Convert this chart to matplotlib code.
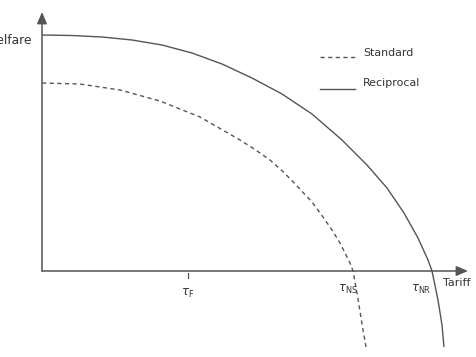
import matplotlib
matplotlib.use("Agg")
import matplotlib.pyplot as plt

# Curves (tariff, welfare)
reciprocal_tariff = [0, 30, 60, 90, 120, 150, 180, 210, 240, 270, 300, 325, 345, 362, 376, 386, 390, 396, 400, 402]
reciprocal_welfare = [236, 235.5, 234, 231, 226, 218, 207, 193, 177, 157, 131, 106, 83, 58, 33, 11, 0, -29, -54, -76]
standard_tariff = [0, 38, 78, 118, 158, 198, 213, 228, 242, 255, 270, 281, 290, 298, 304, 308, 311, 316, 320, 324]
standard_welfare = [188, 187, 181, 170, 154, 131, 121.5, 111, 98.5, 85, 69, 54, 41, 28, 16, 8, 0, -28, -53, -76]

tick_labels = [r"$\tau_{\mathrm{F}}$", r"$\tau_{\mathrm{NS}}$", r"$\tau_{\mathrm{NR}}$"]
tick_label_x = [146, 306, 379]
tick_label_y = [-22, -18, -18]
tau_f = 146

plt.rcParams["mathtext.fontset"] = "dejavusans"
col = "#555555"
tcol = "#333333"

fig = plt.figure(figsize=(4.77, 3.57), dpi=100)
ax = fig.add_axes([0, 0, 1, 1])
ax.set_xlim(-42, 435)
ax.set_ylim(-86, 271)
ax.axis("off")

# axes with arrows
ax.annotate("", xy=(0, 259), xytext=(0, 0),
            arrowprops=dict(arrowstyle="-|>,head_length=0.7,head_width=0.3", color=col, lw=1.1,
                            shrinkA=0, shrinkB=0))
ax.annotate("", xy=(426, 0), xytext=(0, 0),
            arrowprops=dict(arrowstyle="-|>,head_length=0.7,head_width=0.3", color=col, lw=1.1,
                            shrinkA=0, shrinkB=0))

ax.plot(reciprocal_tariff, reciprocal_welfare, color=col, lw=1.0, solid_capstyle="butt",
        solid_joinstyle="round")
ax.plot(standard_tariff, standard_welfare, color=col, lw=1.0, linestyle=(0, (3, 2.5)))

# tick at tau_F
ax.plot([tau_f, tau_f], [-2, -7], color=col, lw=0.9)

for lab, x, y in zip(tick_labels, tick_label_x, tick_label_y):
    ax.text(x, y, lab, ha="center", va="center", fontsize=8.5, color=tcol)

ax.text(401, -12, "Tariff", ha="left", va="center", fontsize=8.0, color=tcol)
ax.text(-10, 231, "Welfare", ha="right", va="center", fontsize=8.8, color=tcol)

# legend
ax.plot([278, 313], [214, 214], color=col, lw=1.0, linestyle=(0, (3, 2.5)))
ax.plot([278, 313], [182, 182], color=col, lw=1.0)
ax.text(321, 218, "Standard", ha="left", va="center", fontsize=7.9, color=tcol)
ax.text(321, 188, "Reciprocal", ha="left", va="center", fontsize=7.9, color=tcol)

fig.savefig("out.png", dpi=100)
